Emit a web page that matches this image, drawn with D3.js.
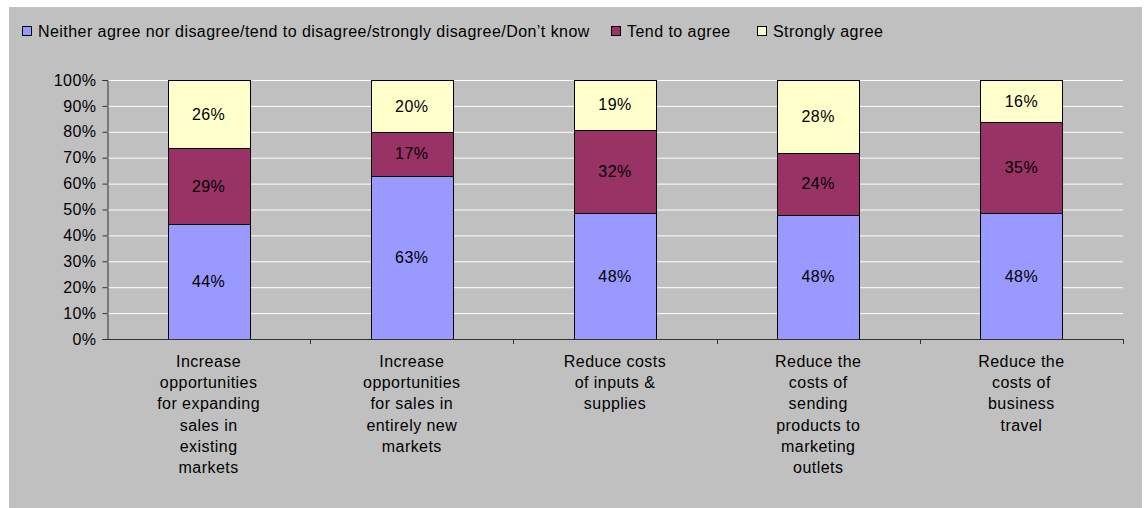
<!DOCTYPE html>
<meta charset='utf-8'>
<style>
body { margin: 0; background: #fff; }
svg text { font: 16px 'Liberation Sans', Arial, sans-serif; letter-spacing: 0.45px; fill: #000; }
.grid line { stroke: #fff; }
.grid .domain { stroke: none; }
.axis .domain, .axis line { stroke: #333; }
.seg { stroke: #000; stroke-width: 1; }
</style>
<body>
<script src='https://d3js.org/d3.v7.min.js'></script>
<script>
'use strict'

// Data
let categories = [
	['Increase', 'opportunities', 'for expanding', 'sales in', 'existing', 'markets'],
	['Increase', 'opportunities', 'for sales in', 'entirely new', 'markets'],
	['Reduce costs', 'of inputs &', 'supplies'],
	['Reduce the', 'costs of', 'sending', 'products to', 'marketing', 'outlets'],
	['Reduce the', 'costs of', 'business', 'travel'],
]
let seriesNames = [
	'Neither agree nor disagree/tend to disagree/strongly disagree/Don\u2019t know',
	'Tend to agree',
	'Strongly agree',
]
let neither = [44, 63, 48, 48, 48]
let tendAgree = [29, 17, 32, 24, 35]
let stronglyAgree = [26, 20, 19, 28, 16]
let yTicks = [0, .1, .2, .3, .4, .5, .6, .7, .8, .9, 1]
let colors = ['#9999ff', '#993366', '#ffffcc']

let keys = ['a', 'b', 'c'],
	rows = categories.map((c, i) => ({i: i, a: neither[i], b: tendAgree[i], c: stronglyAgree[i]}))

let W = 1147, H = 508,
	mLeft = 107, mRight = 1123, mTop = 80, mBottom = 339

let svg = d3.select('body').append('svg').attr('width', W).attr('height', H)

svg.append('rect').attr('x', 9).attr('y', 7).attr('width', 1133).attr('height', H - 7).attr('fill', '#c0c0c0')

let x = d3.scaleBand().domain(d3.range(categories.length)).range([mLeft, mRight]),
	y = d3.scaleLinear().domain([0, 1]).range([mBottom, mTop])

svg.append('g').attr('class', 'grid').attr('transform', `translate(${mLeft},0)`)
	.call(d3.axisLeft(y).tickValues(yTicks.slice(1)).tickSize(-(mRight - mLeft)).tickFormat(''))

let stack = d3.stack().keys(keys).offset(d3.stackOffsetExpand)(rows)
stack.forEach(s => s.forEach(v => v.key = s.key))
let barW = x.bandwidth() * 0.404

let layers = svg.append('g').selectAll('g').data(stack).join('g')
	.attr('fill', (d, i) => colors[i])
layers.selectAll('rect').data(d => d).join('rect')
	.attr('class', 'seg')
	.attr('x', d => Math.round(x(d.data.i) + (x.bandwidth() - barW) / 2) + .5)
	.attr('width', Math.round(barW))
	.attr('y', d => Math.round(y(d[1])) + .5)
	.attr('height', d => Math.round(y(d[0])) - Math.round(y(d[1])))
layers.selectAll('text').data(d => d).join('text')
	.attr('x', d => x(d.data.i) + x.bandwidth() / 2)
	.attr('y', d => (y(d[0]) + y(d[1])) / 2)
	.attr('dy', '0.35em').attr('text-anchor', 'middle')
	.text(d => d.data[d.key] + '%')

svg.append('g').attr('class', 'axis').attr('transform', `translate(${mLeft + .5},0)`)
	.call(d3.axisLeft(y).tickValues(yTicks).tickSize(5).tickPadding(6).tickFormat(d3.format('.0%')))
	.call(g => g.attr('font-size', null).attr('font-family', null))

// x axis with ticks between categories
let xa = svg.append('g').attr('class', 'axis')
xa.append('line').attr('x1', mLeft).attr('x2', mRight).attr('y1', mBottom + .5).attr('y2', mBottom + .5)
xa.selectAll('line.t').data(d3.range(1, categories.length + 1)).join('line').attr('class', 't')
	.attr('x1', d => Math.round(mLeft + d * x.step()) + .5).attr('x2', d => Math.round(mLeft + d * x.step()) + .5)
	.attr('y1', mBottom).attr('y2', mBottom + 5)

xa.selectAll('text').data(categories).join('text')
	.attr('text-anchor', 'middle')
	.attr('transform', (d, i) => `translate(${x(i) + x.bandwidth() / 2},${mBottom + 28})`)
	.selectAll('tspan').data(d => d).join('tspan')
		.attr('x', 0).attr('y', (d, i) => i * 21.2).text(d => d)

// legend
let lx = [22, 611, 757]
let lg = svg.append('g').selectAll('g').data(seriesNames).join('g')
	.attr('transform', (d, i) => `translate(${lx[i]},26)`)
lg.append('rect').attr('width', 9).attr('height', 9).attr('x', .5).attr('y', .5)
	.attr('fill', (d, i) => colors[i]).attr('stroke', '#000')
lg.append('text').attr('x', 16).attr('y', 5).attr('dy', '0.35em').text(d => d)

</script>
</body>
